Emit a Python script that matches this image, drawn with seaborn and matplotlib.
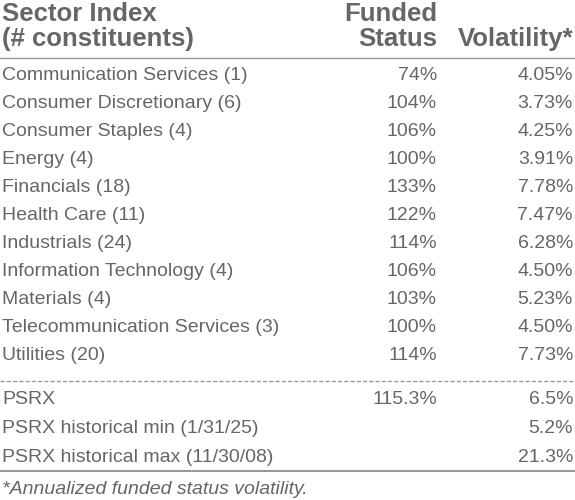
import matplotlib
matplotlib.use("Agg")
import matplotlib.pyplot as plt
import seaborn as sns

sns.set_theme(style="white")
plt.rcParams['font.family'] = ['Liberation Sans', 'DejaVu Sans']

sectors = ["Communication Services (1)", "Consumer Discretionary (6)", "Consumer Staples (4)",
           "Energy (4)", "Financials (18)", "Health Care (11)", "Industrials (24)",
           "Information Technology (4)", "Materials (4)", "Telecommunication Services (3)",
           "Utilities (20)"]
funded = ["74%", "104%", "106%", "100%", "133%", "122%", "114%", "106%", "103%", "100%", "114%"]
vol = ["4.05%", "3.73%", "4.25%", "3.91%", "7.78%", "7.47%", "6.28%", "4.50%", "5.23%", "4.50%", "7.73%"]
psrx_labels = ["PSRX", "PSRX historical min (1/31/25)", "PSRX historical max (11/30/08)"]
psrx_funded = ["115.3%", "", ""]
psrx_vol = ["6.5%", "5.2%", "21.3%"]
footnote = "*Annualized funded status volatility."

C = "#666666"
fig = plt.figure(figsize=(5.75, 5), dpi=100)
ax = fig.add_axes([0, 0, 1, 1])
ax.set_xlim(0, 575); ax.set_ylim(500, 0); ax.axis("off")
fs = 14
hk = dict(fontsize=18.5, fontweight="bold", color=C, va="center")
ax.text(2, 14, "Sector Index", ha="left", **hk)
ax.text(2, 39, "(# constituents)", ha="left", **hk)
ax.text(437, 14, "Funded", ha="right", **hk)
ax.text(437, 39, "Status", ha="right", **hk)
ax.text(573, 39, "Volatility*", ha="right", **hk)
ax.plot([0, 575], [58, 58], color="#999999", lw=1)
for i, (s, f, v) in enumerate(zip(sectors, funded, vol)):
    y = 76 + 28 * i
    ax.text(2, y, s, ha="left", va="center", fontsize=fs, color=C)
    ax.text(437, y, f, ha="right", va="center", fontsize=fs, color=C)
    ax.text(573, y, v, ha="right", va="center", fontsize=fs, color=C)
ax.plot([0, 575], [381, 381], color="#999999", lw=1, ls=(0, (3, 1.5)))
for i, (s, f, v) in enumerate(zip(psrx_labels, psrx_funded, psrx_vol)):
    y = 400 + 28.5 * i
    ax.text(2, y, s, ha="left", va="center", fontsize=fs, color=C)
    ax.text(437, y, f, ha="right", va="center", fontsize=fs, color=C)
    ax.text(573, y, v, ha="right", va="center", fontsize=fs, color=C)
ax.plot([0, 575], [471, 471], color="#999999", lw=1.5)
ax.text(2, 489, footnote, ha="left", va="center", fontsize=fs, color=C, style="italic")
fig.savefig("out.png", dpi=100)
